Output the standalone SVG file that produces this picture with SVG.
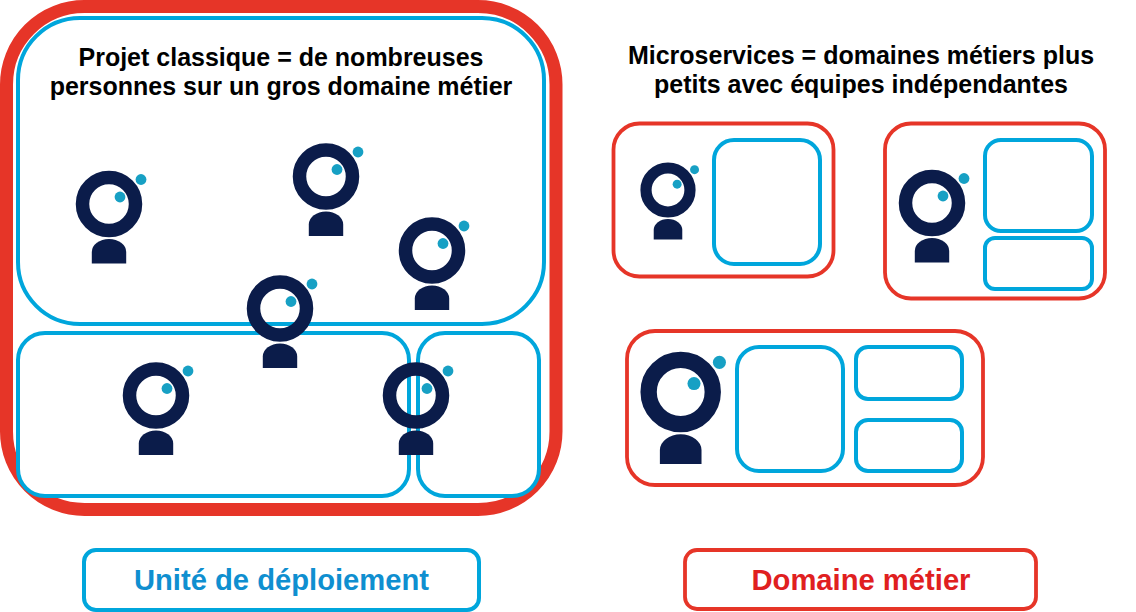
<svg xmlns="http://www.w3.org/2000/svg" xmlns:xlink="http://www.w3.org/1999/xlink" width="1136" height="612" viewBox="0 0 1136 612">
<style>
text{font-family:"Liberation Sans",Arial,sans-serif;font-weight:700;text-anchor:middle}
.t{font-size:25px;fill:#000}
.l{font-size:29.2px}
.b{fill:#fff;stroke:#00a6dc;stroke-width:4}
.o{fill:none;stroke:#00a6dc;stroke-width:4}
.r{fill:#fff;stroke:#e63528;stroke-width:3.8}
</style>
<defs>
<g id="person">
<circle r="26.5" fill="none" stroke="#0b1c4a" stroke-width="13.5"/>
<circle cx="11" cy="-7" r="5.4" fill="#17a0c4"/>
<circle cx="32" cy="-24.5" r="5.4" fill="#17a0c4"/>
<path d="M-17.2 59.500V48A17.2 13 0 0 1 17.2 48V59.500Z" fill="#0b1c4a"/>
</g>
</defs>
<rect width="1136" height="612" fill="#fff"/>
<g id="classique">
<rect x="6.5" y="6.5" width="549.5" height="503" rx="78" fill="#fff" stroke="#e63528" stroke-width="13"/>
<rect id="unit-top" class="o" x="18" y="18" width="526" height="306" rx="62"/>
<rect id="unit-left" class="b" x="18" y="333" width="391" height="163" rx="27"/>
<rect id="unit-right" class="b" x="418" y="333" width="121" height="163" rx="27"/>
<text class="t" x="281" y="66">Projet classique = de nombreuses</text>
<text class="t" x="281" y="95">personnes sur un gros domaine métier</text>
<use id="p1" xlink:href="#person" href="#person" transform="translate(109 204)"/>
<use id="p2" xlink:href="#person" href="#person" transform="translate(326 176.500)"/>
<use id="p3" xlink:href="#person" href="#person" transform="translate(432 250.500)"/>
<use id="p4" xlink:href="#person" href="#person" transform="translate(280 308.500)"/>
<use id="p5" xlink:href="#person" href="#person" transform="translate(156 395.500)"/>
<use id="p6" xlink:href="#person" href="#person" transform="translate(416 395.500)"/>
</g>
<g id="microservices-title">
<text class="t" x="861" y="64">Microservices = domaines métiers plus</text>
<text class="t" x="861" y="93">petits avec équipes indépendantes</text>
</g>
<g id="domain1">
<rect class="r" x="613.5" y="123.5" width="220" height="153" rx="26"/>
<rect class="b" x="714" y="140" width="106" height="124" rx="20"/>
<use xlink:href="#person" href="#person" transform="translate(668 190) scale(.83)"/>
</g>
<g id="domain2">
<rect class="r" x="885" y="123.5" width="220" height="175" rx="26"/>
<rect class="b" x="985" y="140" width="107" height="91" rx="16"/>
<rect class="b" x="985" y="238" width="107" height="51" rx="10"/>
<use xlink:href="#person" href="#person" transform="translate(932 203)"/>
</g>
<g id="domain3">
<rect class="r" x="627" y="331" width="356" height="154" rx="28"/>
<rect class="b" x="737" y="347" width="106" height="124" rx="22"/>
<rect class="b" x="856" y="347" width="106" height="52" rx="12"/>
<rect class="b" x="856" y="420" width="106" height="51" rx="12"/>
<use xlink:href="#person" href="#person" transform="translate(680.7 392) scale(1.21)"/>
</g>
<g id="legend-unit">
<rect class="b" x="84" y="550" width="395" height="60" rx="12"/>
<text class="l" x="281.500" y="590" fill="#0f8fd0">Unité de déploiement</text>
</g>
<g id="legend-domain">
<rect class="r" x="685" y="550" width="351" height="59" rx="12"/>
<text class="l" x="861" y="590" fill="#e0201f">Domaine métier</text>
</g>
</svg>
